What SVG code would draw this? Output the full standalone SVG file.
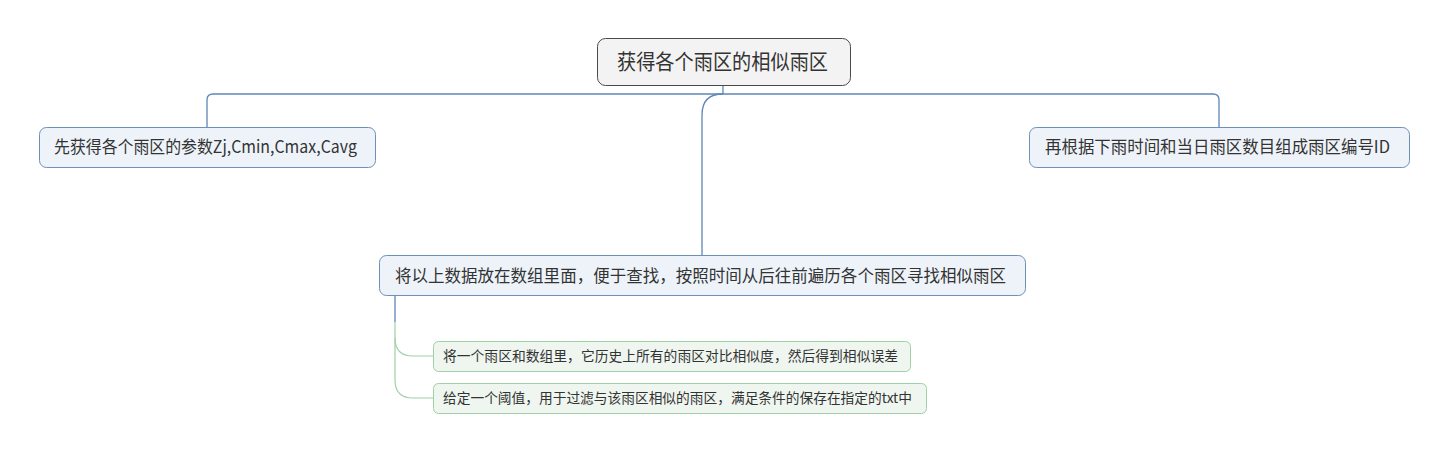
<svg xmlns="http://www.w3.org/2000/svg" width="1447" height="451" viewBox="0 0 1447 451">
<style>
text{font-family:"Microsoft YaHei","Noto Sans CJK SC",sans-serif;fill:#333}
.root rect{fill:#f3f3f3;stroke:#4a4a4a;stroke-width:1}
.main rect{fill:#eef3fa;stroke:#6e8fba;stroke-width:1}
.sub rect{fill:#eef6ef;stroke:#9fd0a6;stroke-width:1}
.c{fill:none;stroke:#5e86b6;stroke-width:1.3}
.g{fill:none;stroke:#9fd0a6;stroke-width:1.2}
</style>
<rect width="1447" height="451" fill="#fff"/>
<g id="connectors">
<path class="c" d="M723 85V94"/>
<path class="c" d="M723 94H213Q207 94 207 100V127"/>
<path class="c" d="M723 94H1213Q1219 94 1219 100V127"/>
<path class="c" d="M723 94Q702 94 702 115V255"/>
<path class="c" d="M395 296V322"/>
<path class="g" d="M395 322V338Q395 356 413 356H433"/>
<path class="g" d="M395 338V380Q395 398 413 398H433"/>
</g>
<g id="root" class="root">
<rect x="597.5" y="38.5" width="253" height="47" rx="8"/>
<text x="617" y="69" font-size="21" textLength="211" lengthAdjust="spacingAndGlyphs">获得各个雨区的相似雨区</text>
</g>
<g id="n1" class="main">
<rect x="39.5" y="127.5" width="336" height="40" rx="7"/>
<text x="54" y="153" font-size="17" textLength="303" lengthAdjust="spacingAndGlyphs">先获得各个雨区的参数Zj,Cmin,Cmax,Cavg</text>
</g>
<g id="n2" class="main">
<rect x="1029.5" y="127.5" width="380" height="40" rx="7"/>
<text x="1045" y="153" font-size="17" textLength="345" lengthAdjust="spacingAndGlyphs">再根据下雨时间和当日雨区数目组成雨区编号ID</text>
</g>
<g id="n3" class="main">
<rect x="379.5" y="255.5" width="646" height="40" rx="7"/>
<text x="395" y="282" font-size="17" textLength="611" lengthAdjust="spacingAndGlyphs">将以上数据放在数组里面，便于查找，按照时间从后往前遍历各个雨区寻找相似雨区</text>
</g>
<g id="s1" class="sub">
<rect x="433.5" y="341.5" width="477" height="30" rx="5"/>
<text x="443" y="361" font-size="14" textLength="455" lengthAdjust="spacingAndGlyphs">将一个雨区和数组里，它历史上所有的雨区对比相似度，然后得到相似误差</text>
</g>
<g id="s2" class="sub">
<rect x="433.5" y="383.5" width="493" height="30" rx="5"/>
<text x="443" y="403" font-size="14" textLength="469" lengthAdjust="spacingAndGlyphs">给定一个阈值，用于过滤与该雨区相似的雨区，满足条件的保存在指定的txt中</text>
</g>
</svg>
